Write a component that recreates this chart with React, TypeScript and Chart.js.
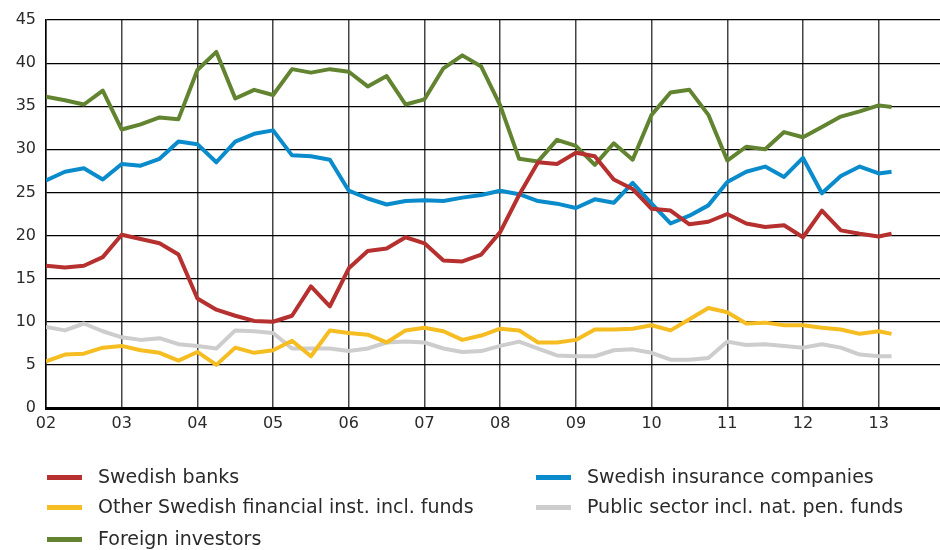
import { useEffect, useRef } from 'react';
import { Chart, registerables } from 'chart.js';

Chart.register(...registerables);

// Quarterly observations 2002 Q1 .. 2013 Q1, plus a final early-2013 reading
const quarterCount = 45;
const lastPeriod = 13.17;
const periods: number[] = [...Array.from({ length: quarterCount }, (_, i) => 2 + i / 4), lastPeriod];

const xTickLabels = ['02', '03', '04', '05', '06', '07', '08', '09', '10', '11', '12', '13'];
const yTicks = [0, 5, 10, 15, 20, 25, 30, 35, 40, 45];

const seriesNames = [
  'Swedish banks',
  'Swedish insurance companies',
  'Other Swedish financial inst. incl. funds',
  'Public sector incl. nat. pen. funds',
  'Foreign investors',
];

const swedishBanks = [
  16.5, 16.3, 16.5, 17.5, 20.1, 19.6, 19.1, 17.8, 12.7, 11.4, 10.7, 10.1,
  10.0, 10.7, 14.1, 11.8, 16.2, 18.2, 18.5, 19.8, 19.1, 17.1, 17.0, 17.8,
  20.4, 24.7, 28.5, 28.3, 29.6, 29.2, 26.5, 25.4, 23.1, 22.9, 21.3, 21.6,
  22.5, 21.4, 21.0, 21.2, 19.8, 22.9, 20.6, 20.2, 19.9, 20.2,
];

const swedishInsurance = [
  26.4, 27.4, 27.8, 26.5, 28.3, 28.1, 28.9, 30.9, 30.6, 28.5, 30.9, 31.8,
  32.2, 29.3, 29.2, 28.8, 25.2, 24.3, 23.6, 24.0, 24.1, 24.0, 24.4, 24.7,
  25.2, 24.8, 24.0, 23.7, 23.2, 24.2, 23.8, 26.1, 23.7, 21.4, 22.3, 23.5,
  26.2, 27.4, 28.0, 26.8, 29.0, 24.9, 26.9, 28.0, 27.2, 27.4,
];

const otherFinancial = [
  5.4, 6.2, 6.3, 7.0, 7.2, 6.7, 6.4, 5.5, 6.5, 5.0, 7.0, 6.4,
  6.7, 7.8, 6.0, 9.0, 8.7, 8.5, 7.6, 9.0, 9.3, 8.9, 7.9, 8.4,
  9.2, 9.0, 7.6, 7.6, 7.9, 9.1, 9.1, 9.2, 9.6, 9.0, 10.3, 11.6,
  11.1, 9.8, 9.9, 9.6, 9.6, 9.3, 9.1, 8.6, 8.9, 8.6,
];

const publicSector = [
  9.4, 9.0, 9.8, 8.9, 8.2, 7.9, 8.1, 7.4, 7.2, 6.9, 9.0, 8.9,
  8.7, 6.9, 6.9, 6.9, 6.6, 6.9, 7.6, 7.7, 7.6, 6.9, 6.5, 6.6,
  7.2, 7.7, 6.9, 6.1, 6.0, 6.0, 6.7, 6.8, 6.4, 5.6, 5.6, 5.8,
  7.7, 7.3, 7.4, 7.2, 7.0, 7.4, 7.0, 6.2, 6.0, 6.0,
];

const foreignInvestors = [
  36.1, 35.7, 35.2, 36.8, 32.3, 32.9, 33.7, 33.5, 39.2, 41.3, 35.9, 36.9,
  36.3, 39.3, 38.9, 39.3, 39.0, 37.3, 38.5, 35.2, 35.8, 39.4, 40.9, 39.6,
  35.1, 28.9, 28.6, 31.1, 30.4, 28.2, 30.7, 28.8, 34.0, 36.6, 36.9, 34.0,
  28.7, 30.3, 30.0, 32.0, 31.4, 32.6, 33.8, 34.4, 35.1, 34.9,
];

const seriesValues = [swedishBanks, swedishInsurance, otherFinancial, publicSector, foreignInvestors];
const seriesColors = ['#b5302e', '#0a8bcb', '#f5bd22', '#cdcdcd', '#628431'];

const FONT = '"DejaVu Sans", "Open Sans", sans-serif';

const legendPlugin = {
  id: 'bottomLegend',
  afterDraw(chart: any) {
    const ctx = chart.ctx;
    const slots = [
      { x: 47, y: 478 },
      { x: 536, y: 478 },
      { x: 47, y: 508 },
      { x: 536, y: 508 },
      { x: 47, y: 540 },
    ];
    ctx.save();
    ctx.font = `19px ${FONT}`;
    ctx.textBaseline = 'middle';
    ctx.textAlign = 'left';
    chart.data.datasets.forEach((ds: any, i: number) => {
      const s = slots[i];
      ctx.fillStyle = ds.borderColor;
      ctx.fillRect(s.x, s.y - 3, 35, 5);
      ctx.fillStyle = '#2a2a2a';
      ctx.fillText(ds.label, s.x + 51, s.y);
    });
    ctx.restore();
  },
};

export default function App() {
  const canvasRef = useRef<HTMLCanvasElement | null>(null);

  useEffect(() => {
    document.body.style.margin = '0';
    const canvas = canvasRef.current;
    if (!canvas) return;
    const chart = new Chart(canvas, {
      type: 'line',
      data: {
        datasets: seriesNames.map((name, i) => ({
          label: name,
          data: periods.map((p, j) => ({ x: p, y: seriesValues[i][j] })),
          borderColor: seriesColors[i],
          backgroundColor: seriesColors[i],
          borderWidth: 4,
          pointRadius: 0,
          tension: 0,
          fill: false,
          borderJoinStyle: 'round' as const,
          borderCapStyle: 'butt' as const,
        })),
      },
      options: {
        responsive: false,
        animation: false,
        devicePixelRatio: 1,
        layout: { padding: { top: 20, bottom: 110, left: 0, right: 0 } },
        plugins: {
          legend: { display: false },
          tooltip: { enabled: false },
        },
        scales: {
          x: {
            type: 'linear',
            min: 2,
            max: 13.81,
            afterBuildTicks: (scale: any) => {
              scale.ticks = xTickLabels.map((_, i) => ({ value: 2 + i }));
            },
            afterFit: (scale: any) => {
              scale.height = 32;
            },
            ticks: {
              callback: (v: any) => xTickLabels[Math.round(Number(v)) - 2] ?? '',
              color: '#2a2a2a',
              font: { family: FONT, size: 16 },
              padding: 6,
              maxRotation: 0,
              autoSkip: false,
            },
            grid: {
              color: '#444',
              lineWidth: 1.5,
              drawTicks: false,
            },
            border: { display: true, color: '#000', width: 3 },
          },
          y: {
            type: 'linear',
            min: 0,
            max: 45,
            afterBuildTicks: (scale: any) => {
              scale.ticks = yTicks.map((v) => ({ value: v }));
            },
            afterFit: (scale: any) => {
              scale.width = 46;
            },
            ticks: {
              color: '#2a2a2a',
              font: { family: FONT, size: 16 },
              padding: 10,
            },
            grid: {
              color: '#000',
              lineWidth: 1.2,
              drawTicks: false,
            },
            border: { display: true, color: '#000', width: 1.5 },
          },
        },
      },
      plugins: [legendPlugin],
    } as any);
    return () => chart.destroy();
  }, []);

  return (
    <div style={{ width: 940, height: 550 }}>
      <canvas ref={canvasRef} width={940} height={550} />
    </div>
  );
}
